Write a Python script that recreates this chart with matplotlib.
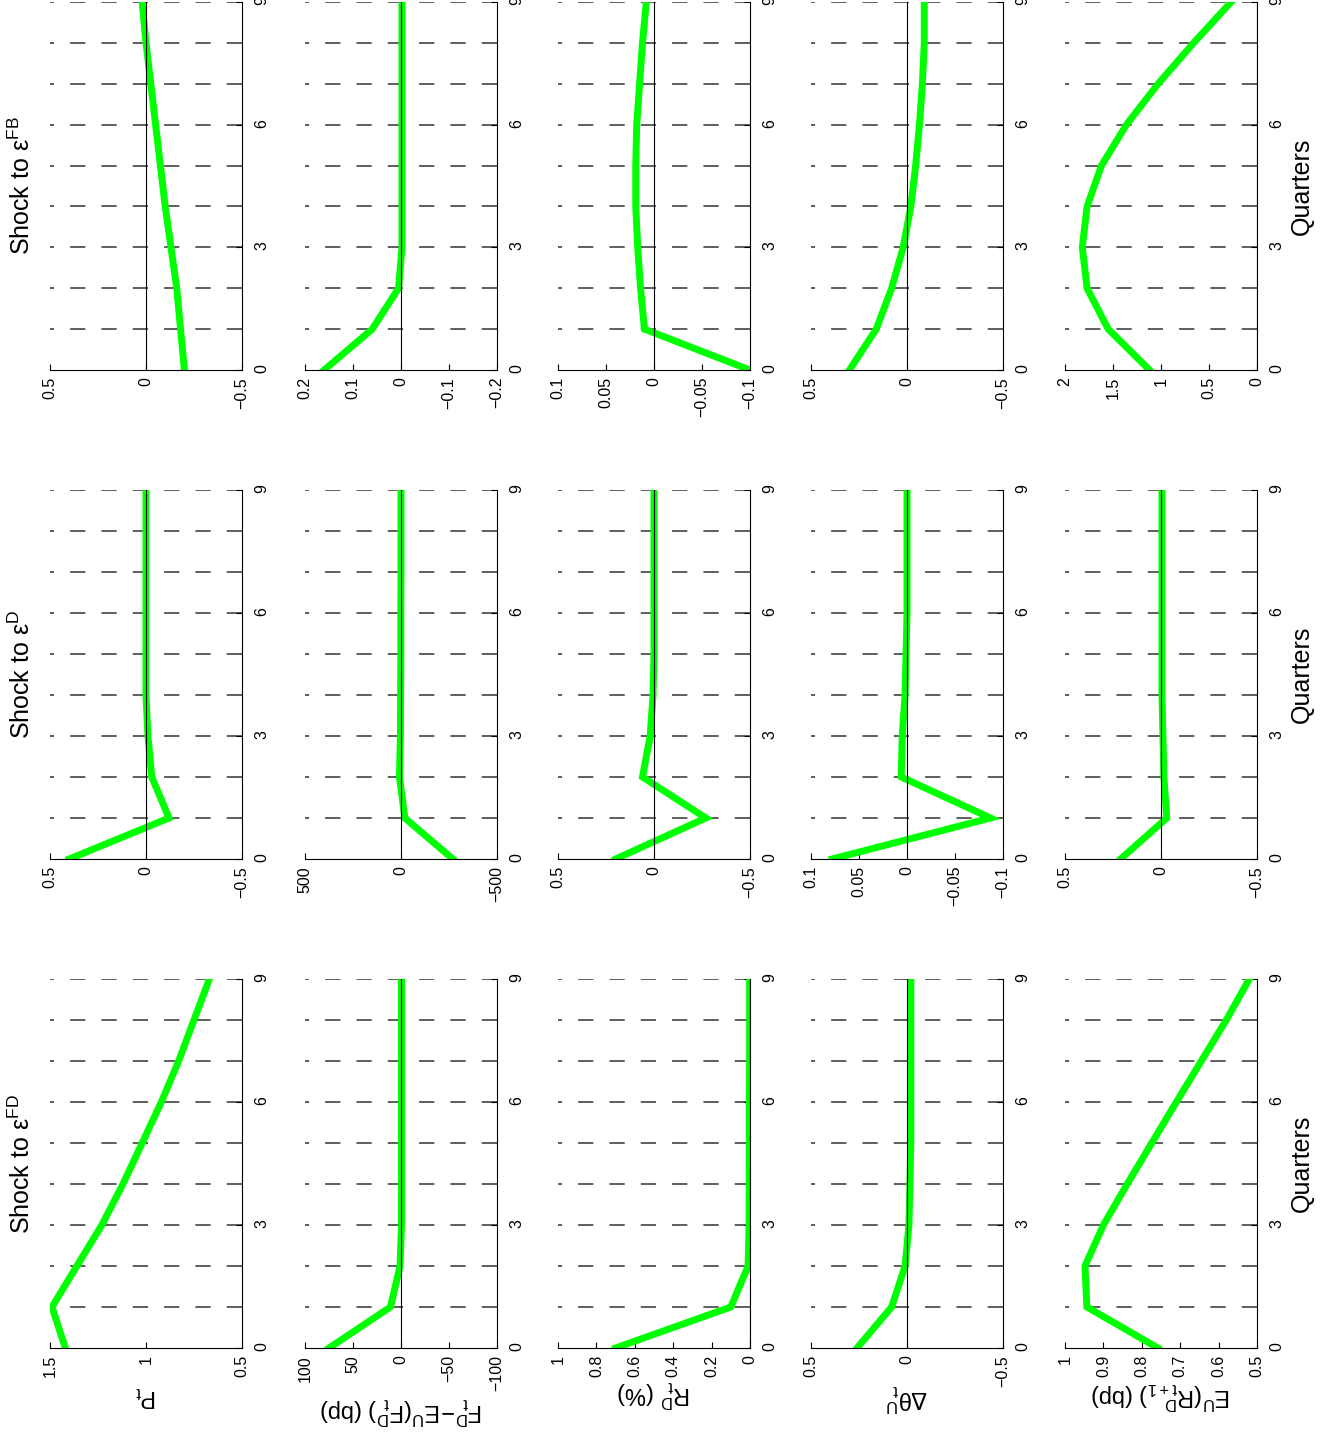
import matplotlib
matplotlib.use("Agg")
import matplotlib.pyplot as plt
from matplotlib.ticker import FuncFormatter

plt.rcParams['font.family'] = ['Liberation Sans', 'DejaVu Sans']
plt.rcParams['mathtext.fontset'] = 'custom'
plt.rcParams['mathtext.rm'] = 'Liberation Sans'
plt.rcParams['mathtext.it'] = 'Liberation Sans:italic'
plt.rcParams['mathtext.default'] = 'regular'

quarters = [0, 1, 2, 3, 4, 5, 6, 7, 8, 9]

shock_titles = ['Shock to ε$^{FD}$', 'Shock to ε$^{D}$', 'Shock to ε$^{FB}$']
var_labels = ['$P_t$',
              '$F^D_t\\!-\\!E^U(F^D_t)$ (bp)',
              '$R^D_t$ (%)',
              '$\\Delta\\theta^U_t$',
              '$E^U(R^D_{t+1})$ (bp)']

# impulse responses, shock to eps^FD
fd_price  = [1.42, 1.49, 1.36, 1.23, 1.12, 1.02, 0.92, 0.83, 0.75, 0.67]
fd_spread = [75, 11, 1, -0.5, -0.5, -0.5, -0.5, -0.5, -0.5, -0.5]
fd_rate   = [0.70, 0.10, 0.01, 0.005, 0.004, 0.003, 0.003, 0.002, 0.002, 0.002]
fd_theta  = [0.26, 0.08, 0.01, -0.01, -0.015, -0.02, -0.02, -0.02, -0.02, -0.02]
fd_exp    = [0.758, 0.943, 0.948, 0.90, 0.838, 0.774, 0.71, 0.645, 0.58, 0.52]

# shock to eps^D
d_price  = [0.40, -0.12, -0.03, -0.01, 0.0, 0.0, 0.0, 0.0, 0.0, 0.0]
d_spread = [-270, -20, 8, 3, 2, 1, 1, 0, 0, 0]
d_rate   = [0.20, -0.27, 0.06, 0.02, 0.005, 0.0, 0.0, 0.0, 0.0, 0.0]
d_theta  = [0.078, -0.087, 0.006, 0.005, 0.002, 0.001, 0.0, 0.0, 0.0, 0.0]
d_exp    = [0.21, -0.03, -0.015, -0.01, -0.005, -0.005, -0.005, -0.005, -0.005, -0.005]

# shock to eps^FB
fb_price  = [-0.20, -0.18, -0.16, -0.13, -0.10, -0.075, -0.05, -0.025, 0.0, 0.02]
fb_spread = [0.16, 0.06, 0.005, -0.002, -0.002, -0.002, -0.002, -0.002, -0.002, -0.002]
fb_rate   = [-0.1, 0.01, 0.014, 0.017, 0.019, 0.019, 0.018, 0.015, 0.012, 0.008]
fb_theta  = [0.30, 0.16, 0.08, 0.02, -0.02, -0.045, -0.065, -0.08, -0.09, -0.09]
fb_exp    = [1.12, 1.55, 1.77, 1.82, 1.77, 1.62, 1.36, 1.03, 0.66, 0.27]

responses = [[fd_price, fd_spread, fd_rate, fd_theta, fd_exp],
             [d_price, d_spread, d_rate, d_theta, d_exp],
             [fb_price, fb_spread, fb_rate, fb_theta, fb_exp]]

value_ticks = [
    [[0.5, 1, 1.5], [-100, -50, 0, 50, 100], [0, 0.2, 0.4, 0.6, 0.8, 1],
     [-0.5, 0, 0.5], [0.5, 0.6, 0.7, 0.8, 0.9, 1]],
    [[-0.5, 0, 0.5], [-500, 0, 500], [-0.5, 0, 0.5],
     [-0.1, -0.05, 0, 0.05, 0.1], [-0.5, 0, 0.5]],
    [[-0.5, 0, 0.5], [-0.2, -0.1, 0, 0.1, 0.2], [-0.1, -0.05, 0, 0.05, 0.1],
     [-0.5, 0, 0.5], [0, 0.5, 1, 1.5, 2]],
]

W, H = 1338, 1437
fig = plt.figure(figsize=(W / 100, H / 100), dpi=100)

col_left = [50, 305, 558, 811, 1065]
col_w = 192
block_px = [(979, 1348), (490, 859), (2, 370)]   # FD, D, FB (top, bottom pixel)
label_off = [0.13, 0.17, 0.125, 0.135, 0.13]

fmt = FuncFormatter(lambda v, _: ('%g' % v).replace('-', '\u2212'))

for b, (top, bot) in enumerate(block_px):
    for c in range(5):
        ax = fig.add_axes([col_left[c] / W, 1 - bot / H, col_w / W, (bot - top) / H])
        ticks = value_ticks[b][c]
        lo, hi = ticks[0], ticks[-1]
        for q in quarters[1:]:
            ax.plot([lo, hi], [q, q], color='#333333', lw=1.1,
                    dashes=(10, 10.5), zorder=1)
        ax.plot(responses[b][c], quarters, color='#00ff00', lw=5,
                solid_joinstyle='miter', zorder=2)
        if lo <= 0 <= hi:
            ax.plot([0, 0], [0, 9], color='black', lw=0.8, zorder=3)
        ax.set_xlim(hi, lo)
        ax.set_ylim(0, 9)
        ax.set_xticks(ticks)
        ax.xaxis.set_major_formatter(fmt)
        ax.yaxis.tick_right()
        ax.set_yticks([0, 3, 6, 9])
        ax.spines['left'].set_visible(False)
        ax.spines['top'].set_visible(False)
        ax.spines['bottom'].set_linewidth(0.8)
        ax.spines['right'].set_linewidth(0.8)
        ax.tick_params(axis='x', direction='in', length=4, width=0.8,
                       labelsize=11.5, labelrotation=90, pad=5)
        ax.tick_params(axis='y', direction='in', length=4, width=0.8,
                       labelsize=11.5, labelrotation=90, pad=9)
        if c == 0:
            ax.text(-0.145, 0.5, shock_titles[b], transform=ax.transAxes,
                    rotation=90, ha='center', va='center', fontsize=18)
        if c == 4:
            ax.text(1.234, 0.5, 'Quarters', transform=ax.transAxes,
                    rotation=90, ha='center', va='center', fontsize=18)
        if b == 0:
            ax.text(0.5, -label_off[c], var_labels[c], transform=ax.transAxes,
                    rotation=180, ha='center', va='center', fontsize=17)

fig.savefig('out.png', dpi=100)
